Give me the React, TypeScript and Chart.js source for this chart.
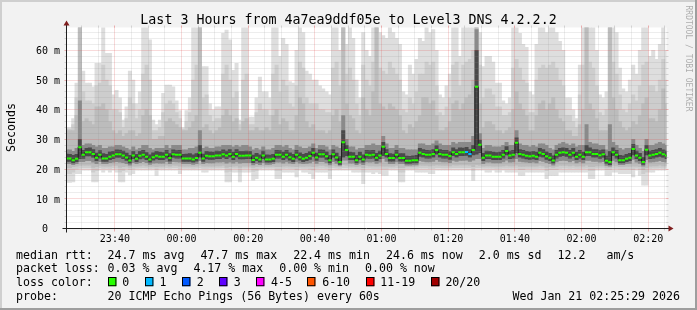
import React, { useEffect, useRef } from 'react';
import { Chart, registerables } from 'chart.js';

Chart.register(...registerables);

// ---------- time axis: minutes after 23:00 ----------
const RANGE_START = 25 + 29 / 60; // 23:25:29
const RANGE_END = RANGE_START + 180; // 02:25:29
const FIRST_BUCKET = 25.5; // centre of the 23:25-23:26 bucket, one bucket per minute
const X_TICKS = [40, 60, 80, 100, 120, 140, 160, 180, 200];
const X_TICK_LABELS = ['23:40', '00:00', '00:20', '00:40', '01:00', '01:20', '01:40', '02:00', '02:20'];

// ---------- value axis (ms) ----------
const Y_MAX = 67.68;
const Y_TICKS = [0, 10, 20, 30, 40, 50, 60];
const Y_TICK_LABELS = ['0', '10 m', '20 m', '30 m', '40 m', '50 m', '60 m'];

// ---------- median rtt per minute (ms) ----------
const MEDIAN = [
  23.6, 23.6, 23.0, 23.5, 27.4, 24.8, 25.7, 25.7, 25.1, 23.8,
  24.8, 23.6, 23.6, 24.2, 24.6, 25.0, 25.0, 24.6, 23.9, 22.9,
  24.6, 23.5, 24.5, 24.8, 24.2, 23.2, 24.0, 24.5, 24.2, 24.2,
  24.8, 23.7, 25.0, 24.8, 24.8, 23.6, 23.6, 23.6, 23.2, 23.7,
  25.5, 23.6, 24.5, 24.3, 24.3, 24.6, 24.6, 25.0, 24.6, 25.1,
  24.2, 25.1, 24.5, 24.5, 24.6, 24.6, 23.1, 23.8, 23.2, 24.6,
  23.2, 23.2, 23.5, 24.8, 24.8, 24.2, 24.8, 24.0, 23.5, 24.8,
  24.0, 23.5, 23.8, 24.4, 25.5, 23.9, 25.0, 25.0, 24.3, 23.0,
  25.0, 23.9, 22.4, 29.0, 26.4, 24.2, 24.2, 23.0, 24.2, 23.2,
  24.8, 24.7, 24.8, 23.8, 24.6, 27.5, 25.1, 23.7, 23.7, 24.8,
  23.7, 23.7, 22.8, 22.8, 23.0, 23.0, 25.5, 25.1, 24.8, 24.8,
  25.1, 26.4, 25.1, 24.8, 24.8, 24.4, 25.7, 25.1, 25.7, 25.7,
  25.8, 25.1, 26.4, 47.7, 28.2, 23.8, 24.6, 24.6, 24.2, 24.2,
  24.2, 24.8, 26.1, 24.6, 24.8, 28.9, 25.1, 24.8, 24.5, 24.3,
  24.5, 24.2, 25.5, 25.1, 24.3, 23.8, 22.9, 24.8, 25.5, 25.7,
  25.5, 24.8, 25.5, 24.2, 24.8, 24.2, 25.7, 25.7, 25.1, 25.1,
  24.7, 25.0, 22.8, 22.4, 25.7, 24.8, 23.0, 23.0, 23.5, 23.8,
  26.8, 24.6, 23.8, 22.4, 26.5, 24.6, 24.8, 25.1, 25.5, 25.0,
  24.6,
];

// buckets with lost pings (index into MEDIAN) and how many of 20 were lost
const LOSS_BUCKETS = [120, 121];
const LOSS_COUNTS = [1, 1];

// ---------- smoke: ping-rank bands per minute (ms), outermost first ----------
const SMOKE_HI_1 = [
  34, 34, 37, 49, 70, 53, 49, 49, 47.7, 55.6,
  55.6, 70, 59, 59, 45, 46.5, 44, 36.5, 41, 53,
  50, 42, 46, 70, 70, 63.5, 36.5, 35, 36.5, 45.5,
  48.3, 48.3, 47.7, 43, 39.7, 34, 39.7, 44, 70, 70,
  70, 54.5, 54.5, 42, 40, 41, 41, 65.7, 66.8, 63.5,
  53.3, 55.6, 36.5, 70, 70, 37.5, 37.5, 44, 51, 46,
  46, 44, 70, 70, 58, 64, 62, 49.5, 49, 60,
  70, 66, 53, 52, 50, 50, 48, 47, 46, 45,
  70, 70, 60, 70, 62, 70, 64, 50, 44, 66,
  60, 58, 70, 70, 66, 65, 64, 70, 66, 64,
  62, 46, 45, 55, 52, 57, 64, 63, 70, 66,
  67, 60, 45, 44, 48, 52, 70, 70, 58, 70,
  70, 70, 70, 70, 66, 54.5, 58, 58, 56, 49,
  49, 43, 42, 44, 70, 70, 65.7, 62, 61, 46,
  45, 62, 70, 70, 66, 70, 70, 66, 63, 60,
  44, 44, 40, 37, 55, 70, 70, 70, 70, 60,
  45, 44, 46, 70, 70, 66, 54, 47, 46, 50,
  55, 52, 60, 70, 70, 58, 60, 57, 62, 70,
  60,
];
const SMOKE_HI_2 = [
  33.5, 33.5, 35, 44, 70, 46, 43, 43, 42, 48,
  49, 55, 50, 48, 40, 40, 39, 34, 37, 44,
  42, 37, 40, 52, 55, 50, 33, 33, 34, 39,
  42, 43, 42, 39, 37, 33.5, 36, 39, 50, 55,
  70, 44, 45, 38, 36, 37, 37, 52, 55, 50,
  44, 46, 35, 50, 52, 35, 35, 39, 42, 40,
  40, 38, 52, 55, 46, 50, 48, 42, 41, 48,
  56, 54, 44, 42, 42, 42, 40, 40, 39, 39,
  54, 56, 48, 70, 52, 54, 50, 42, 38, 55,
  50, 48, 56, 70, 54, 53, 52, 56, 54, 52,
  50, 40, 39, 44, 42, 46, 52, 52, 56, 55,
  56, 48, 39, 38, 41, 44, 55, 56, 48, 55,
  56, 57, 60, 70, 55, 44, 47, 47, 45, 41,
  41, 38, 38, 39, 54, 57, 54, 50, 49, 39,
  39, 50, 54, 55, 54, 55, 56, 54, 50, 48,
  38, 38, 36, 34, 45, 55, 70, 56, 54, 48,
  39, 38, 40, 70, 56, 52, 45, 40, 39, 42,
  45, 43, 48, 55, 56, 48, 48, 46, 50, 57,
  50,
];
const SMOKE_HI_3 = [
  33, 33, 33, 38, 70, 36, 37, 36, 35, 41,
  41, 42, 40, 36, 33, 32, 33, 31, 32, 33,
  33, 31, 32, 38, 40, 38, 30, 30, 31, 31,
  36, 37, 36, 35, 34, 33, 33, 34, 36, 38,
  70, 34, 35, 33, 32, 33, 34, 38, 40, 38,
  36, 37, 33, 36, 37, 33, 33, 34, 33, 33,
  34, 33, 38, 40, 35, 37, 36, 33, 33, 38,
  44, 42, 36, 34, 35, 33, 33, 33, 32, 33,
  38, 40, 36, 70, 42, 38, 37, 33, 32, 44,
  40, 38, 46, 70, 42, 41, 40, 42, 41, 40,
  38, 33, 32, 35, 34, 36, 38, 44, 44, 42,
  43, 38, 33, 33, 34, 36, 42, 43, 40, 42,
  44, 45, 50, 70, 42, 34, 36, 36, 35, 33,
  33, 32, 33, 34, 40, 46, 42, 40, 38, 33,
  33, 38, 42, 43, 40, 42, 44, 40, 37, 36,
  33, 33, 31, 31, 35, 40, 70, 42, 40, 37,
  33, 33, 33, 70, 44, 40, 36, 34, 33, 34,
  36, 35, 38, 42, 44, 37, 37, 36, 40, 47,
  42,
];
const SMOKE_HI_4 = [
  26.5, 26.5, 26, 27, 43, 28, 28.5, 28.5, 28, 27.5,
  28, 27, 27, 27.5, 27.5, 28, 28, 27.5, 27, 26.5,
  27.5, 26.5, 27, 28, 28, 27, 26.5, 27, 27, 27,
  28, 27, 28, 28, 28, 26.5, 26.5, 27, 27, 27.5,
  33, 27, 27.5, 27, 27, 27.5, 27.5, 28, 28, 28,
  27.5, 28, 27.5, 28, 28, 27.5, 26.5, 27, 26.5, 27.5,
  26.5, 26.5, 27, 28, 28, 27.5, 28, 27, 26.5, 28,
  27.5, 27, 27, 27.5, 28.5, 27, 28, 28, 27.5, 26.5,
  28, 27.5, 27, 38, 30, 27.5, 27.5, 26.5, 27, 27,
  28, 28, 28.5, 28, 28, 31, 28.5, 27, 27, 28,
  27, 27, 26.5, 26.5, 26.5, 26.5, 28.5, 28.5, 28, 28,
  28.5, 29.5, 28.5, 28, 28, 28, 29, 28.5, 29, 29,
  29, 29, 31, 67, 32, 27, 28, 28, 27.5, 27.5,
  27.5, 28, 29, 28, 28, 33, 28.5, 28, 28, 27.5,
  28, 27.5, 28.5, 28.5, 28, 27, 26.5, 28, 28.5, 29,
  28.5, 28, 28.5, 27.5, 28, 28, 35, 29, 28.5, 28.5,
  28, 28, 26.5, 35, 29, 28, 27, 26.5, 27, 27,
  30, 28, 27, 26, 30, 28, 28, 28.5, 29, 28.5,
  28,
];
const SMOKE_HI_5 = [
  25.1, 25.0, 24.6, 25.0, 30.0, 26.3, 27.0, 27.2, 26.6, 25.4,
  26.2, 25.2, 25.0, 25.8, 26.0, 26.5, 26.4, 26.1, 25.4, 24.6,
  26.0, 25.0, 26.0, 26.3, 25.6, 24.8, 25.5, 26.0, 25.7, 25.6,
  26.3, 25.2, 26.5, 26.2, 26.3, 25.0, 25.1, 25.2, 24.8, 25.2,
  28.0, 25.1, 26.0, 25.8, 25.7, 26.1, 26.0, 26.5, 26.1, 26.6,
  25.7, 26.6, 26.0, 26.0, 26.1, 26.0, 24.7, 25.3, 24.8, 26.1,
  24.8, 24.7, 25.0, 26.3, 26.2, 25.7, 26.3, 25.5, 25.0, 26.3,
  25.5, 25.0, 25.3, 25.9, 27.0, 25.4, 26.5, 26.4, 25.8, 24.6,
  26.5, 25.4, 24.2, 33.0, 28.0, 25.7, 25.6, 24.6, 25.7, 24.8,
  26.3, 26.2, 26.3, 25.3, 26.1, 29.0, 26.6, 25.2, 25.1, 26.3,
  25.2, 25.2, 24.4, 24.3, 24.5, 24.6, 27.0, 26.6, 26.3, 26.2,
  26.6, 27.9, 26.6, 26.3, 26.3, 25.9, 27.2, 26.6, 27.2, 27.1,
  27.3, 26.6, 28.0, 60.0, 29.8, 25.3, 26.1, 26.0, 25.7, 25.6,
  25.7, 26.3, 27.6, 26.1, 26.3, 30.5, 26.6, 26.3, 26.0, 25.8,
  26.0, 25.7, 27.0, 26.6, 25.8, 25.3, 24.5, 26.3, 27.0, 27.2,
  27.0, 26.3, 27.0, 25.7, 26.3, 25.7, 28.0, 27.2, 26.6, 26.6,
  26.2, 26.5, 24.4, 26.0, 27.2, 26.3, 24.6, 24.5, 25.0, 25.3,
  28.3, 26.1, 25.3, 24.0, 28.0, 26.1, 26.3, 26.6, 27.0, 26.5,
  26.1,
];
const SMOKE_LO_1 = [
  15.5, 15.5, 15.7, 18.5, 18.5, 19.6, 19.6, 19.6, 15.7, 15.7,
  19.6, 19.0, 19.6, 19.0, 19.6, 19.0, 15.7, 15.7, 19.0, 18.0,
  18.5, 19.6, 19.6, 19.6, 19.6, 19.6, 19.6, 17.9, 19.6, 19.6,
  19.6, 19.6, 19.6, 19.6, 18.5, 19.6, 19.6, 19.6, 19.6, 19.6,
  19.6, 19.0, 19.0, 19.6, 19.6, 19.6, 19.6, 19.6, 15.7, 15.7,
  19.0, 19.0, 15.7, 19.0, 19.0, 19.0, 16.3, 16.8, 19.6, 19.6,
  19.6, 19.6, 19.6, 16.8, 16.8, 19.0, 19.0, 19.0, 19.0, 17.4,
  19.6, 19.0, 19.0, 18.5, 16.8, 19.0, 19.0, 19.0, 19.0, 16.8,
  19.6, 19.6, 19.6, 19.6, 19.6, 19.6, 19.0, 19.0, 19.0, 15.1,
  19.0, 19.0, 18.5, 19.0, 18.5, 17.9, 17.9, 19.6, 19.6, 19.6,
  15.7, 15.7, 19.6, 19.6, 19.6, 19.0, 19.0, 19.0, 19.0, 18.5,
  18.5, 19.6, 19.6, 19.6, 19.6, 19.6, 19.6, 19.6, 19.6, 19.6,
  19.6, 19.6, 16.2, 19.6, 19.6, 19.6, 19.0, 19.0, 19.6, 19.0,
  19.0, 19.6, 19.0, 19.0, 19.0, 19.0, 17.9, 17.9, 19.0, 19.0,
  19.0, 19.0, 19.0, 19.0, 16.8, 17.9, 17.9, 17.9, 19.0, 19.0,
  19.0, 19.0, 19.0, 19.0, 19.0, 19.0, 19.0, 16.8, 16.8, 19.6,
  19.6, 19.6, 17.9, 17.9, 19.0, 19.0, 18.5, 18.5, 18.5, 18.5,
  17.4, 19.6, 17.9, 14.6, 14.6, 19.0, 19.0, 19.6, 19.6, 19.6,
  19.6,
];
const SMOKE_LO_2 = [
  18.5, 18.5, 19.0, 20.0, 20.3, 20.5, 20.5, 20.5, 19.0, 19.5,
  20.5, 20.2, 20.3, 20.2, 20.5, 20.3, 19.0, 19.5, 20.2, 19.8,
  20.0, 20.3, 20.4, 20.5, 20.4, 20.2, 20.3, 19.8, 20.3, 20.3,
  20.5, 20.3, 20.5, 20.5, 20.0, 20.3, 20.3, 20.3, 20.2, 20.3,
  20.5, 20.2, 20.2, 20.3, 20.3, 20.4, 20.4, 20.5, 19.0, 19.2,
  20.3, 20.3, 19.0, 20.3, 20.3, 20.3, 19.2, 19.5, 20.2, 20.4,
  20.3, 20.3, 20.3, 19.5, 19.5, 20.2, 20.3, 20.2, 20.2, 19.7,
  20.3, 20.2, 20.2, 20.0, 19.6, 20.2, 20.3, 20.3, 20.2, 19.5,
  20.5, 20.3, 20.2, 20.5, 20.5, 20.3, 20.3, 20.2, 20.2, 19.0,
  20.3, 20.3, 20.2, 20.2, 20.2, 20.0, 20.0, 20.3, 20.3, 20.4,
  19.0, 19.0, 20.2, 20.2, 20.2, 20.2, 20.4, 20.4, 20.4, 20.2,
  20.2, 20.5, 20.5, 20.4, 20.4, 20.4, 20.5, 20.5, 20.5, 20.5,
  20.5, 20.5, 19.5, 20.5, 20.5, 20.3, 20.3, 20.3, 20.3, 20.2,
  20.2, 20.3, 20.3, 20.3, 20.3, 20.3, 19.8, 19.8, 20.2, 20.2,
  20.2, 20.2, 20.3, 20.3, 19.5, 19.8, 19.8, 19.8, 20.2, 20.3,
  20.3, 20.2, 20.3, 20.2, 20.2, 20.2, 20.3, 19.5, 19.5, 20.3,
  20.3, 20.3, 19.8, 19.8, 20.3, 20.2, 20.0, 20.0, 20.0, 20.0,
  19.8, 20.3, 19.8, 18.5, 19.0, 20.2, 20.3, 20.3, 20.4, 20.3,
  20.3,
];
const SMOKE_LO_3 = [
  20.5, 20.5, 20.8, 21.0, 21.2, 21.3, 21.3, 21.3, 20.6, 20.8,
  21.2, 21.0, 21.0, 21.0, 21.2, 21.2, 20.6, 20.8, 21.0, 20.6,
  21.0, 21.0, 21.1, 21.3, 21.1, 20.9, 21.0, 20.8, 21.0, 21.0,
  21.3, 21.0, 21.3, 21.2, 21.0, 21.0, 21.0, 21.0, 20.9, 21.0,
  21.3, 21.0, 21.0, 21.0, 21.0, 21.1, 21.1, 21.2, 20.6, 20.8,
  21.0, 21.1, 20.6, 21.0, 21.0, 21.0, 20.6, 20.8, 20.9, 21.1,
  20.9, 20.9, 21.0, 20.8, 20.8, 21.0, 21.1, 21.0, 20.9, 20.8,
  21.0, 20.9, 21.0, 21.0, 20.8, 21.0, 21.2, 21.2, 21.0, 20.6,
  21.2, 21.0, 20.8, 21.5, 21.3, 21.0, 21.0, 20.8, 21.0, 20.5,
  21.2, 21.1, 21.1, 21.0, 21.1, 21.0, 21.0, 21.0, 21.0, 21.2,
  20.5, 20.5, 20.8, 20.8, 20.8, 20.9, 21.3, 21.2, 21.2, 21.1,
  21.2, 21.4, 21.3, 21.2, 21.2, 21.1, 21.4, 21.3, 21.4, 21.4,
  21.4, 21.3, 20.8, 21.5, 21.3, 21.0, 21.1, 21.1, 21.0, 21.0,
  21.0, 21.1, 21.2, 21.1, 21.1, 21.3, 20.9, 20.9, 21.0, 21.0,
  21.0, 21.0, 21.2, 21.1, 20.6, 20.8, 20.6, 20.9, 21.2, 21.2,
  21.2, 21.1, 21.2, 21.0, 21.1, 21.0, 21.3, 20.8, 20.8, 21.1,
  21.1, 21.1, 20.6, 20.6, 21.2, 21.1, 20.8, 20.8, 20.9, 20.9,
  21.0, 21.0, 20.8, 19.8, 20.5, 21.0, 21.1, 21.1, 21.3, 21.1,
  21.1,
];
const SMOKE_LO_4 = [
  21.8, 21.8, 21.5, 21.8, 22.5, 22.5, 22.8, 22.8, 22.3, 21.8,
  22.5, 21.8, 21.8, 22.2, 22.3, 22.5, 22.3, 22.2, 21.8, 21.3,
  22.2, 21.8, 22.2, 22.5, 22.2, 21.6, 22.0, 22.1, 22.0, 22.0,
  22.5, 21.8, 22.5, 22.4, 22.3, 21.8, 21.8, 21.8, 21.6, 21.8,
  22.8, 21.8, 22.2, 22.1, 22.1, 22.3, 22.3, 22.4, 22.0, 22.3,
  22.0, 22.4, 22.0, 22.2, 22.2, 22.2, 21.4, 21.8, 21.5, 22.2,
  21.6, 21.6, 21.8, 22.3, 22.3, 22.0, 22.4, 22.0, 21.8, 22.4,
  22.0, 21.8, 21.9, 22.1, 22.6, 21.9, 22.5, 22.5, 22.1, 21.4,
  22.5, 21.9, 21.2, 23.0, 23.0, 22.0, 22.0, 21.5, 22.0, 21.5,
  22.4, 22.3, 22.4, 21.9, 22.3, 23.5, 22.6, 21.8, 21.8, 22.4,
  21.8, 21.8, 21.3, 21.3, 21.4, 21.4, 22.8, 22.6, 22.4, 22.4,
  22.6, 23.2, 22.6, 22.4, 22.4, 22.2, 22.9, 22.6, 22.9, 22.9,
  23.0, 22.6, 23.0, 23.5, 23.5, 21.8, 22.3, 22.3, 22.1, 22.1,
  22.1, 22.4, 23.0, 22.3, 22.4, 23.5, 22.6, 22.4, 22.3, 22.2,
  22.3, 22.1, 22.8, 22.6, 22.2, 21.8, 21.3, 22.4, 22.8, 22.9,
  22.8, 22.4, 22.8, 22.1, 22.4, 22.1, 22.9, 22.9, 22.6, 22.6,
  22.3, 22.5, 21.2, 21.0, 22.9, 22.4, 21.5, 21.5, 21.8, 21.9,
  23.3, 22.3, 21.9, 21.0, 23.2, 22.3, 22.4, 22.6, 22.8, 22.5,
  22.3,
];
const SMOKE_LO_5 = [
  22.6, 22.6, 22.1, 22.5, 23.5, 23.6, 24.4, 24.4, 23.9, 22.8,
  23.7, 22.6, 22.6, 23.2, 23.5, 23.9, 23.9, 23.5, 22.9, 22.0,
  23.5, 22.5, 23.4, 23.7, 23.2, 22.3, 23.0, 23.4, 23.2, 23.2,
  23.7, 22.7, 23.9, 23.7, 23.7, 22.6, 22.6, 22.6, 22.3, 22.7,
  24.0, 22.6, 23.4, 23.3, 23.3, 23.5, 23.5, 23.9, 23.5, 24.0,
  23.2, 24.0, 23.4, 23.4, 23.5, 23.5, 22.2, 22.8, 22.3, 23.5,
  22.3, 22.3, 22.5, 23.7, 23.7, 23.2, 23.7, 23.0, 22.5, 23.7,
  23.0, 22.5, 22.8, 23.3, 24.3, 22.9, 23.9, 23.9, 23.3, 22.1,
  23.9, 22.9, 21.6, 24.0, 24.5, 23.2, 23.2, 22.1, 23.2, 22.3,
  23.7, 23.6, 23.7, 22.8, 23.5, 24.5, 24.0, 22.7, 22.7, 23.7,
  22.7, 22.7, 21.9, 21.9, 22.1, 22.1, 24.3, 24.0, 23.7, 23.7,
  24.0, 25.0, 24.0, 23.7, 23.7, 23.3, 24.5, 24.0, 24.5, 24.5,
  24.6, 24.0, 24.8, 25.0, 25.5, 22.8, 23.5, 23.5, 23.2, 23.2,
  23.2, 23.7, 24.8, 23.5, 23.7, 25.5, 24.0, 23.7, 23.4, 23.3,
  23.4, 23.2, 24.3, 24.0, 23.3, 22.8, 22.0, 23.7, 24.3, 24.5,
  24.3, 23.7, 24.3, 23.2, 23.7, 23.2, 24.5, 24.5, 24.0, 24.0,
  23.6, 23.9, 21.9, 21.5, 24.5, 23.7, 22.1, 22.1, 22.5, 22.8,
  24.8, 23.5, 22.8, 21.6, 24.8, 23.5, 23.7, 24.0, 24.3, 23.9,
  23.5,
];

// ---------- legend ----------
const LOSS_LEGEND_LABELS = ['0', '1', '2', '3', '4-5', '6-10', '11-19', '20/20'];
const LOSS_LEGEND_COLORS = ['#26ff00', '#00b8ff', '#0059ff', '#5e00ff', '#ff00ff', '#ff5500', '#ff0000', '#a10000'];
const MEDIAN_STATS = ['24.7 ms avg', '47.7 ms max', '22.4 ms min', '24.6 ms now', '2.0 ms sd', '12.2   am/s'];
const LOSS_STATS = ['0.03 % avg', '4.17 % max', '0.00 % min', '0.00 % now'];
const TITLE = 'Last 3 Hours from 4a7ea9ddf05e to Level3 DNS 4.2.2.2';
const PROBE_TEXT = '20 ICMP Echo Pings (56 Bytes) every 60s';
const STAMP_TEXT = 'Wed Jan 21 02:25:29 2026';

// ---------- styling ----------
const MONO = "'DejaVu Sans Mono', 'Liberation Mono', monospace";
const C_BACK = '#f2f2f2';
const C_SHADE_A = '#cfcfcf';
const C_SHADE_B = '#9e9e9e';
const C_GRID = 'rgba(143,143,143,0.32)';
const C_MGRID = 'rgba(222,79,79,0.42)';
const C_AXIS = 'rgb(31,31,31)';
const C_ARROW = 'rgb(128,31,31)';
const SMOKE_COLORS = ['#dedede', '#cdcdcd', '#bcbcbc', '#8a8a8a', '#4a4a4a'];

const crisp = (v: number) => Math.floor(v) + 0.5;

function seg(ctx: CanvasRenderingContext2D, x1: number, y1: number, x2: number, y2: number) {
  ctx.beginPath();
  ctx.moveTo(x1, y1);
  ctx.lineTo(x2, y2);
  ctx.stroke();
}

function lossColor(count: number) {
  if (count <= 0) return LOSS_LEGEND_COLORS[0];
  if (count <= 3) return LOSS_LEGEND_COLORS[count];
  if (count <= 5) return LOSS_LEGEND_COLORS[4];
  if (count <= 10) return LOSS_LEGEND_COLORS[5];
  if (count <= 19) return LOSS_LEGEND_COLORS[6];
  return LOSS_LEGEND_COLORS[7];
}

function drawGrid(chart: any) {
  const { ctx, chartArea: a } = chart;
  const xs = chart.scales.x;
  const ys = chart.scales.y;
  ctx.save();
  ctx.lineWidth = 1;
  for (let i = 1; i * 2 < Y_MAX; i++) {
    const v = i * 2;
    const major = v % 10 === 0;
    const py = crisp(ys.getPixelForValue(v));
    ctx.strokeStyle = major ? C_MGRID : C_GRID;
    ctx.setLineDash([1, 1]);
    seg(ctx, a.left + 1, py, a.right, py);
    ctx.setLineDash([]);
    seg(ctx, a.left - 2, py, a.left, py);
    seg(ctx, a.right, py, a.right + 2, py);
  }
  for (let m = 30; m < RANGE_END; m += 5) {
    const major = X_TICKS.includes(m);
    const px = crisp(xs.getPixelForValue(m));
    ctx.strokeStyle = major ? C_MGRID : C_GRID;
    ctx.setLineDash([1, 1]);
    seg(ctx, px, a.top, px, a.bottom);
    ctx.setLineDash([]);
    seg(ctx, px, a.top - 2, px, a.top);
    seg(ctx, px, a.bottom, px, a.bottom + (major ? 3 : 2));
  }
  ctx.restore();
}

const rrdPlugin = {
  id: 'rrdDecor',
  beforeDraw(chart: any) {
    const { ctx, width, height, chartArea: a } = chart;
    ctx.save();
    ctx.fillStyle = C_BACK;
    ctx.fillRect(0, 0, width, height);
    ctx.fillStyle = C_SHADE_A;
    ctx.fillRect(0, 0, width, 2);
    ctx.fillRect(0, 0, 2, height);
    ctx.fillStyle = C_SHADE_B;
    ctx.fillRect(0, height - 2, width, 2);
    ctx.fillRect(width - 2, 0, 2, height);
    ctx.fillStyle = '#ffffff';
    ctx.fillRect(a.left, a.top, a.right - a.left, a.bottom - a.top);
    ctx.restore();
  },
  beforeDatasetDraw(chart: any, args: any) {
    if (args.index === 0) drawGrid(chart);
  },
  afterDraw(chart: any) {
    const { ctx, width, chartArea: a } = chart;
    const xs = chart.scales.x;
    const ys = chart.scales.y;
    ctx.save();
    const ax = crisp(a.left);
    const ay = crisp(a.bottom);
    ctx.strokeStyle = C_AXIS;
    ctx.lineWidth = 1;
    seg(ctx, ax - 4, ay, a.right + 4, ay);
    seg(ctx, ax, ay + 4, ax, a.top - 4);
    ctx.fillStyle = C_ARROW;
    ctx.beginPath();
    ctx.moveTo(a.right + 2, ay - 3);
    ctx.lineTo(a.right + 2, ay + 3);
    ctx.lineTo(a.right + 7, ay);
    ctx.closePath();
    ctx.fill();
    ctx.beginPath();
    ctx.moveTo(ax - 3, a.top - 2);
    ctx.lineTo(ax + 3, a.top - 2);
    ctx.lineTo(ax, a.top - 7);
    ctx.closePath();
    ctx.fill();

    ctx.fillStyle = '#000000';
    ctx.textBaseline = 'alphabetic';
    ctx.font = `13.3px ${MONO}`;
    ctx.textAlign = 'center';
    ctx.fillText(TITLE, width / 2, 24);
    ctx.font = `10px ${MONO}`;
    ctx.textAlign = 'right';
    const unitW = ctx.measureText(' m').width;
    Y_TICKS.forEach((v, i) => {
      const lbl = Y_TICK_LABELS[i];
      const py = ys.getPixelForValue(v);
      ctx.fillText(lbl, lbl.includes(' ') ? 60 : 60 - unitW, py + 3.7);
    });
    ctx.textAlign = 'center';
    X_TICKS.forEach((t, i) => {
      ctx.fillText(X_TICK_LABELS[i], xs.getPixelForValue(t), 241.5);
    });
    ctx.save();
    ctx.font = `11.6px ${MONO}`;
    ctx.translate(15, 127.5);
    ctx.rotate(-Math.PI / 2);
    ctx.textAlign = 'center';
    ctx.fillText('Seconds', 0, 0);
    ctx.restore();
    ctx.save();
    ctx.font = `8px ${MONO}`;
    ctx.fillStyle = 'rgba(0,0,0,0.3)';
    ctx.translate(685.5, 5.5);
    ctx.rotate(Math.PI / 2);
    ctx.textAlign = 'left';
    ctx.fillText('RRDTOOL / TOBI OETIKER', 0, 0);
    ctx.restore();

    ctx.font = `11.6px ${MONO}`;
    ctx.textAlign = 'left';
    const rows = [258.5, 272.4, 286.3, 300.2];
    const labelX = 16;
    const valueX = 107.6;
    const gap = 16;
    ctx.fillText('median rtt:', labelX, rows[0]);
    let x = valueX;
    MEDIAN_STATS.forEach((s) => {
      ctx.fillText(s, x, rows[0]);
      x += ctx.measureText(s).width + gap;
    });
    ctx.fillText('packet loss:', labelX, rows[1]);
    x = valueX;
    LOSS_STATS.forEach((s) => {
      ctx.fillText(s, x, rows[1]);
      x += ctx.measureText(s).width + gap;
    });
    ctx.fillText('loss color:', labelX, rows[2]);
    x = valueX;
    const boxW = 8.4;
    const boxH = 9.2;
    LOSS_LEGEND_LABELS.forEach((s, i) => {
      const bx = Math.round(x);
      const by = Math.round(rows[2] - boxH);
      ctx.fillStyle = LOSS_LEGEND_COLORS[i];
      ctx.fillRect(bx, by, boxW, boxH);
      ctx.strokeStyle = '#000000';
      ctx.lineWidth = 1;
      ctx.strokeRect(bx + 0.5, by + 0.5, boxW - 1, boxH - 1);
      ctx.fillStyle = '#000000';
      ctx.fillText(s, x + 14.7, rows[2]);
      x += 14.7 + ctx.measureText(s).width + 15.5;
    });
    ctx.fillText('probe:', labelX, rows[3]);
    ctx.fillText(PROBE_TEXT, valueX, rows[3]);
    ctx.textAlign = 'right';
    ctx.fillText(STAMP_TEXT, 680, rows[3]);
    ctx.restore();
  },
};

const bucketX = (k: number) => FIRST_BUCKET + k;

function smokeBand(lo: number[], hi: number[], color: string, order: number) {
  return {
    type: 'bar' as const,
    data: lo.map((l, k) => ({ x: bucketX(k), y: [l, hi[k]] })),
    backgroundColor: color,
    borderWidth: 0,
    borderSkipped: false,
    grouped: false,
    barPercentage: 1,
    categoryPercentage: 1,
    clip: 0,
    order,
  };
}

export default function App() {
  const ref = useRef<HTMLCanvasElement>(null);
  useEffect(() => {
    document.body.style.margin = '0';
    const canvas = ref.current;
    if (!canvas) return;
    const pointColors = MEDIAN.map((_, k) => {
      const j = LOSS_BUCKETS.indexOf(k);
      return lossColor(j >= 0 ? LOSS_COUNTS[j] : 0);
    });
    const chart = new Chart(canvas, {
      type: 'bar',
      data: {
        datasets: [
          {
            type: 'line',
            data: MEDIAN.map((v, k) => ({ x: bucketX(k), y: v })),
            borderColor: '#202020',
            borderWidth: 1,
            stepped: 'middle',
            pointStyle: 'line',
            pointRadius: 1.667,
            pointBorderWidth: 2,
            pointBorderColor: pointColors,
            pointBackgroundColor: pointColors,
            clip: 0,
            order: 0,
          } as any,
          smokeBand(SMOKE_LO_1, SMOKE_HI_1, SMOKE_COLORS[0], 6),
          smokeBand(SMOKE_LO_2, SMOKE_HI_2, SMOKE_COLORS[1], 5),
          smokeBand(SMOKE_LO_3, SMOKE_HI_3, SMOKE_COLORS[2], 4),
          smokeBand(SMOKE_LO_4, SMOKE_HI_4, SMOKE_COLORS[3], 3),
          smokeBand(SMOKE_LO_5, SMOKE_HI_5, SMOKE_COLORS[4], 2),
        ],
      },
      options: {
        responsive: false,
        maintainAspectRatio: false,
        devicePixelRatio: 1,
        animation: false,
        events: [],
        layout: { padding: { left: 66.5, right: 30.5, top: 27.5, bottom: 81.5 } },
        plugins: { legend: { display: false }, tooltip: { enabled: false } },
        scales: {
          x: { type: 'linear', min: RANGE_START, max: RANGE_END, display: false, offset: false },
          y: { type: 'linear', min: 0, max: Y_MAX, display: false },
        },
      } as any,
      plugins: [rrdPlugin],
    });
    return () => chart.destroy();
  }, []);
  return (
    <div style={{ position: 'fixed', left: 0, top: 0, width: 697, height: 310 }}>
      <canvas ref={ref} width={697} height={310} style={{ display: 'block', width: 697, height: 310 }} />
    </div>
  );
}
